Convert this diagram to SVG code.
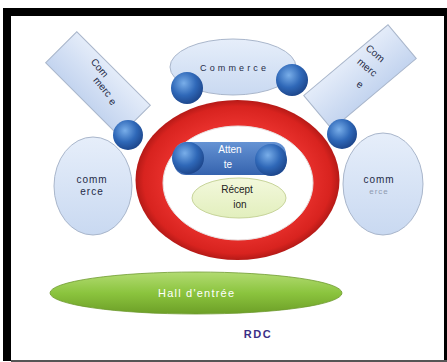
<svg xmlns="http://www.w3.org/2000/svg" width="447" height="362" viewBox="0 0 447 362">
  <defs>
    <linearGradient id="gLight" x1="0" y1="0" x2="0" y2="1">
      <stop offset="0" stop-color="#e6eefa"/>
      <stop offset="1" stop-color="#c9d9f1"/>
    </linearGradient>
    <linearGradient id="gRect" x1="0" y1="0" x2="0" y2="1">
      <stop offset="0" stop-color="#e4ecf9"/>
      <stop offset="1" stop-color="#c3d4ef"/>
    </linearGradient>
    <radialGradient id="gBall" cx="0.4" cy="0.35" r="0.7">
      <stop offset="0" stop-color="#79aee9"/>
      <stop offset="0.55" stop-color="#2f68b8"/>
      <stop offset="1" stop-color="#1b4286"/>
    </radialGradient>
    <linearGradient id="gBlue" x1="0" y1="0" x2="0" y2="1">
      <stop offset="0" stop-color="#6593d4"/>
      <stop offset="1" stop-color="#3563ae"/>
    </linearGradient>
    <linearGradient id="gHall" x1="0" y1="0" x2="0" y2="1">
      <stop offset="0" stop-color="#b2db72"/>
      <stop offset="0.5" stop-color="#8bc43e"/>
      <stop offset="1" stop-color="#6d9f27"/>
    </linearGradient>
    <radialGradient id="gRing" cx="0.5" cy="0.5" r="0.5">
      <stop offset="0.7" stop-color="#e8302c"/>
      <stop offset="0.92" stop-color="#d8231f"/>
      <stop offset="1" stop-color="#b51a17"/>
    </radialGradient>
    <linearGradient id="gRec" x1="0" y1="0" x2="0" y2="1">
      <stop offset="0" stop-color="#f3f8dc"/>
      <stop offset="1" stop-color="#e2efbd"/>
    </linearGradient>
  </defs>
  <style>
    .lbl { font-family: "Liberation Sans", Arial, sans-serif; fill: #1f2b47; text-anchor: middle; }
    .shape { stroke: #a9b6cb; stroke-width: 1; }
    .ball { fill: url(#gBall); }
  </style>

  <rect x="0" y="0" width="447" height="362" fill="#ffffff"/>

  <g id="frame">
    <rect x="3" y="8" width="444" height="8" fill="#000000"/>
    <rect x="3" y="8" width="8" height="353" fill="#000000"/>
    <rect x="444" y="8" width="3" height="354" fill="#000000"/>
    <rect x="11" y="360" width="436" height="2" fill="#555555"/>
  </g>

  <g id="connectors"></g>

  <g id="commerce-rect-left">
    <rect x="-52" y="-22" width="104" height="44" transform="translate(98,84) rotate(45)" fill="url(#gRect)" class="shape"/>
    <text class="lbl" font-size="10" transform="translate(97,70) rotate(50)">Com</text>
    <text class="lbl" font-size="10" transform="translate(100,89) rotate(50)">merc</text>
    <text class="lbl" font-size="10" transform="translate(110,104) rotate(50)">e</text>
  </g>

  <g id="commerce-rect-right">
    <rect x="-55" y="-22" width="110" height="44" transform="translate(360,77) rotate(-40)" fill="url(#gRect)" class="shape"/>
    <text class="lbl" font-size="10" transform="translate(373,56) rotate(40)">Com</text>
    <text class="lbl" font-size="10" transform="translate(365,70) rotate(40)">merc</text>
    <text class="lbl" font-size="10" transform="translate(358,87) rotate(40)">e</text>
  </g>

  <g id="commerce-top">
    <ellipse cx="233" cy="67" rx="63" ry="28" fill="url(#gLight)" class="shape"/>
    <text class="lbl" x="233" y="71" font-size="9" textLength="66" lengthAdjust="spacing">Commerce</text>
  </g>

  <g id="commerce-left">
    <ellipse cx="93" cy="186" rx="39" ry="49" fill="url(#gLight)" class="shape"/>
    <text class="lbl" x="92" y="183" font-size="10" letter-spacing="1">comm</text>
    <text class="lbl" x="92" y="195" font-size="10" letter-spacing="1">erce</text>
  </g>

  <g id="commerce-right">
    <ellipse cx="383" cy="184" rx="40" ry="51" fill="url(#gLight)" class="shape"/>
    <text class="lbl" x="379" y="183" font-size="10" letter-spacing="1">comm</text>
    <text class="lbl" x="379" y="194" font-size="8" letter-spacing="1" style="fill:#8f9ab0">erce</text>
  </g>

  <g id="ring">
    <ellipse cx="237.5" cy="180" rx="102" ry="80" fill="url(#gRing)"/>
    <ellipse cx="238" cy="183" rx="75" ry="57" fill="#ffffff" stroke="#e8e0e0" stroke-width="1"/>
  </g>

  <g id="attente">
    <rect x="174" y="142" width="112" height="33" rx="12" fill="url(#gBlue)"/>
    <text x="230" y="153" font-family="Liberation Sans, Arial, sans-serif" font-size="10" fill="#ffffff" text-anchor="middle">Atten</text>
    <text x="228" y="168" font-family="Liberation Sans, Arial, sans-serif" font-size="10" fill="#ffffff" text-anchor="middle">te</text>
  </g>

  <g id="reception">
    <ellipse cx="239" cy="198" rx="47" ry="20" fill="url(#gRec)" stroke="#c7d49a" stroke-width="1"/>
    <text class="lbl" x="237" y="193" font-size="10" style="fill:#222222">Récept</text>
    <text class="lbl" x="240" y="208" font-size="10" style="fill:#222222">ion</text>
  </g>

  <g id="balls">
    <circle class="ball" cx="187" cy="88" r="16"/>
    <circle class="ball" cx="292" cy="80" r="16"/>
    <circle class="ball" cx="128" cy="135" r="15"/>
    <circle class="ball" cx="342" cy="134" r="15"/>
    <circle class="ball" cx="188" cy="158" r="16"/>
    <circle class="ball" cx="271" cy="160" r="16"/>
  </g>

  <g id="hall">
    <ellipse cx="196" cy="293" rx="146" ry="21" fill="url(#gHall)" stroke="#6f9a30" stroke-width="0.8"/>
    <text x="196" y="297" font-family="Liberation Sans, Arial, sans-serif" font-size="11" fill="#ffffff" text-anchor="middle" textLength="76" lengthAdjust="spacing">Hall d'entrée</text>
  </g>

  <g id="rdc">
    <text x="258" y="338" font-family="Liberation Sans, Arial, sans-serif" font-size="11" font-weight="bold" fill="#3b2f86" text-anchor="middle" letter-spacing="1.5">RDC</text>
  </g>
</svg>
